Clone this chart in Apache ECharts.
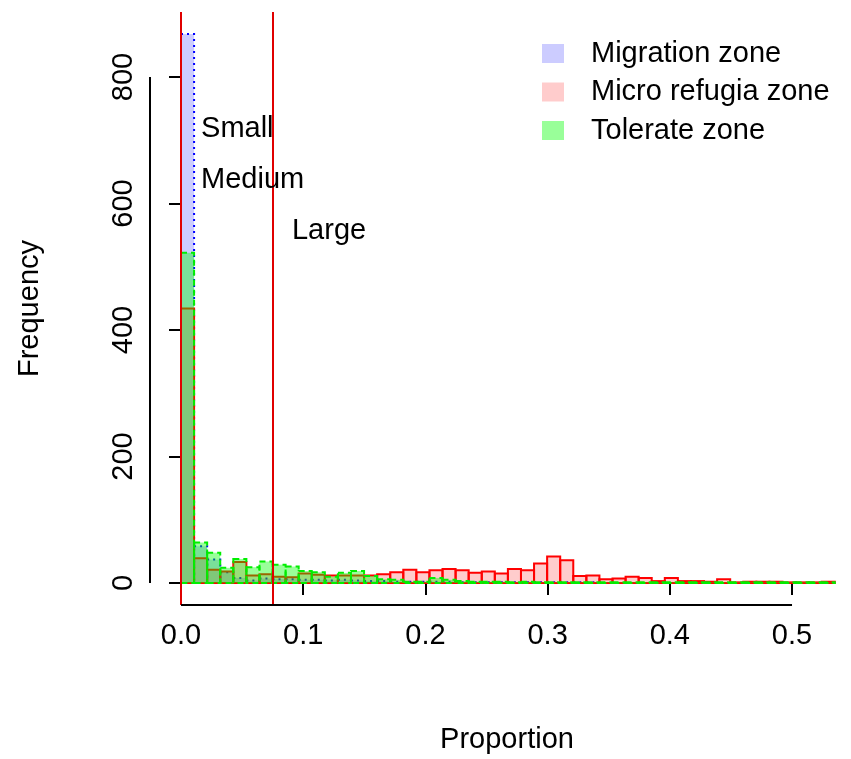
<!DOCTYPE html>
<html>
<head>
<meta charset="utf-8">
<script src="https://cdn.jsdelivr.net/npm/echarts@6/dist/echarts.min.js"></script>
<style>html,body{margin:0;padding:0;background:#fff;}#c{width:851px;height:759px;}</style>
</head>
<body>
<div id="c"></div>
<script>
// ---- data ----
const binWidth = 0.0107;
const migration = [868, 58, 37, 17, 8, 4, 7, 6, 6, 5, 5, 4, 5, 4, 3, 3, 2, 2, 2, 2, 2, 1, 1, 1, 1, 1, 1, 1, 1, 1, 1, 1, 0, 0, 0, 0, 0, 0, 0, 0, 0, 0, 0, 0, 0, 0, 0, 0, 0, 0];
const microRefugia = [434, 39, 21, 18, 33, 12, 14, 10, 9, 15, 13, 12, 12, 12, 12, 14, 17, 21, 17, 20, 22, 20, 16, 18, 15, 22, 20, 31, 42, 36, 11, 12, 6, 7, 10, 8, 3, 8, 3, 3, 2, 6, 1, 2, 2, 2, 1, 1, 1, 2];
const tolerate = [522, 64, 48, 24, 38, 25, 34, 29, 26, 19, 17, 10, 16, 19, 11, 6, 5, 2, 2, 8, 5, 3, 2, 2, 2, 1, 2, 1, 1, 1, 1, 1, 1, 1, 1, 1, 1, 1, 1, 1, 1, 1, 1, 1, 1, 1, 1, 1, 1, 1];
const seriesNames = ['Migration zone', 'Micro refugia zone', 'Tolerate zone'];
const xTicks = [0, 0.1, 0.2, 0.3, 0.4, 0.5];
const yTicks = [0, 200, 400, 600, 800];
const thresholds = [0, 0.075];
const annotations = [['Small', 0.0164, 718], ['Medium', 0.0164, 637], ['Large', 0.0908, 557]];

// ---- chart ----
const FONT = 'Liberation Sans, Arial, sans-serif';
const FS = 29;
const X_MIN = -0.02537, X_MAX = 0.5589, Y_MIN = -34.8, Y_MAX = 902.8;

function toBins(counts) {
  return counts.map((c, i) => [i * binWidth, (i + 1) * binWidth, c]);
}
function histRender(fill, stroke, dash) {
  return function (params, api) {
    const p0 = api.coord([api.value(0), 0]);
    const p1 = api.coord([api.value(1), api.value(2)]);
    return {
      type: 'rect',
      shape: { x: p0[0], y: p1[1], width: p1[0] - p0[0], height: p0[1] - p1[1] },
      style: { fill: fill, stroke: stroke, lineWidth: 2, lineDash: dash }
    };
  };
}
const fills = ['rgba(0,0,255,0.2)', 'rgba(255,0,0,0.2)', 'rgba(0,255,0,0.4)'];
const strokes = ['#0000ff', '#ff0000', '#00ee00'];
const dashes = [[2, 4], null, [6, 4]];
const counts = [migration, microRefugia, tolerate];

const chart = echarts.init(document.getElementById('c'), null, { renderer: 'canvas' });
const series = seriesNames.map((name, k) => ({
  type: 'custom',
  name: name,
  renderItem: histRender(fills[k], strokes[k], dashes[k]),
  encode: { x: [0, 1], y: 2 },
  itemStyle: { color: fills[k] },
  data: toBins(counts[k]),
  z: 2 + k,
  clip: false,
  silent: true
}));
// threshold lines and R-style axis lines
const redLine = { color: '#e00000', width: 2, type: 'solid' };
const blackLine = { color: '#000', width: 2, type: 'solid' };
series.push({
  type: 'line',
  name: 'decor',
  data: [],
  silent: true,
  z: 10,
  markLine: {
    symbol: 'none',
    silent: true,
    label: { show: false },
    emphasis: { disabled: true },
    data: thresholds.map(v => [{ coord: [v, Y_MIN], lineStyle: redLine }, { coord: [v, Y_MAX] }]).concat([
      [{ coord: [X_MIN, yTicks[0]], lineStyle: blackLine }, { coord: [X_MIN, yTicks[yTicks.length - 1]] }],
      [{ coord: [xTicks[0], Y_MIN], lineStyle: blackLine }, { coord: [xTicks[xTicks.length - 1], Y_MIN] }]
    ])
  }
});
series.push({
  type: 'scatter',
  name: 'notes',
  symbolSize: 0,
  silent: true,
  z: 11,
  itemStyle: { opacity: 1 },
  data: annotations.map(a => ({ value: [a[1], a[2]], name: a[0] })),
  label: {
    show: true, position: 'right', distance: 0, formatter: p => p.name, opacity: 1,
    color: '#000', fontSize: FS, fontFamily: FONT, align: 'left', verticalAlign: 'middle'
  }
});

chart.setOption({
  animation: false,
  backgroundColor: '#fff',
  grid: { left: 150, right: -13, top: 12, bottom: 154, containLabel: false, outerBoundsMode: 'none' },
  legend: {
    orient: 'vertical',
    left: 537, top: 34,
    itemWidth: 22, itemHeight: 19, itemGap: 9.5,
    icon: 'rect',
    data: seriesNames.map((n, k) => ({ name: n, itemStyle: { color: fills[k], borderWidth: 0 } })),
    textStyle: { fontSize: FS, fontFamily: FONT, color: '#000', lineHeight: 28, padding: [0, 0, 0, 22] },
    selectedMode: false
  },
  xAxis: {
    type: 'value', min: X_MIN, max: X_MAX,
    name: 'Proportion', nameLocation: 'middle', nameGap: 120,
    nameTextStyle: { fontSize: FS, fontFamily: FONT, color: '#000' },
    axisLine: { show: false },
    splitLine: { show: false },
    axisTick: { show: true, length: 12, customValues: xTicks, lineStyle: { color: '#000', width: 2 } },
    axisLabel: { customValues: xTicks, formatter: v => v.toFixed(1), fontSize: FS, fontFamily: FONT, color: '#000', margin: 16 }
  },
  yAxis: {
    type: 'value', min: Y_MIN, max: Y_MAX,
    name: 'Frequency', nameLocation: 'middle', nameGap: 106, nameRotate: 90,
    nameTextStyle: { fontSize: FS, fontFamily: FONT, color: '#000' },
    axisLine: { show: false },
    splitLine: { show: false },
    axisTick: { show: true, length: 12, customValues: yTicks, lineStyle: { color: '#000', width: 2 } },
    axisLabel: { customValues: yTicks, rotate: 90, fontSize: FS, fontFamily: FONT, color: '#000', margin: 12 }
  },
  series: series
});
</script>
</body>
</html>
